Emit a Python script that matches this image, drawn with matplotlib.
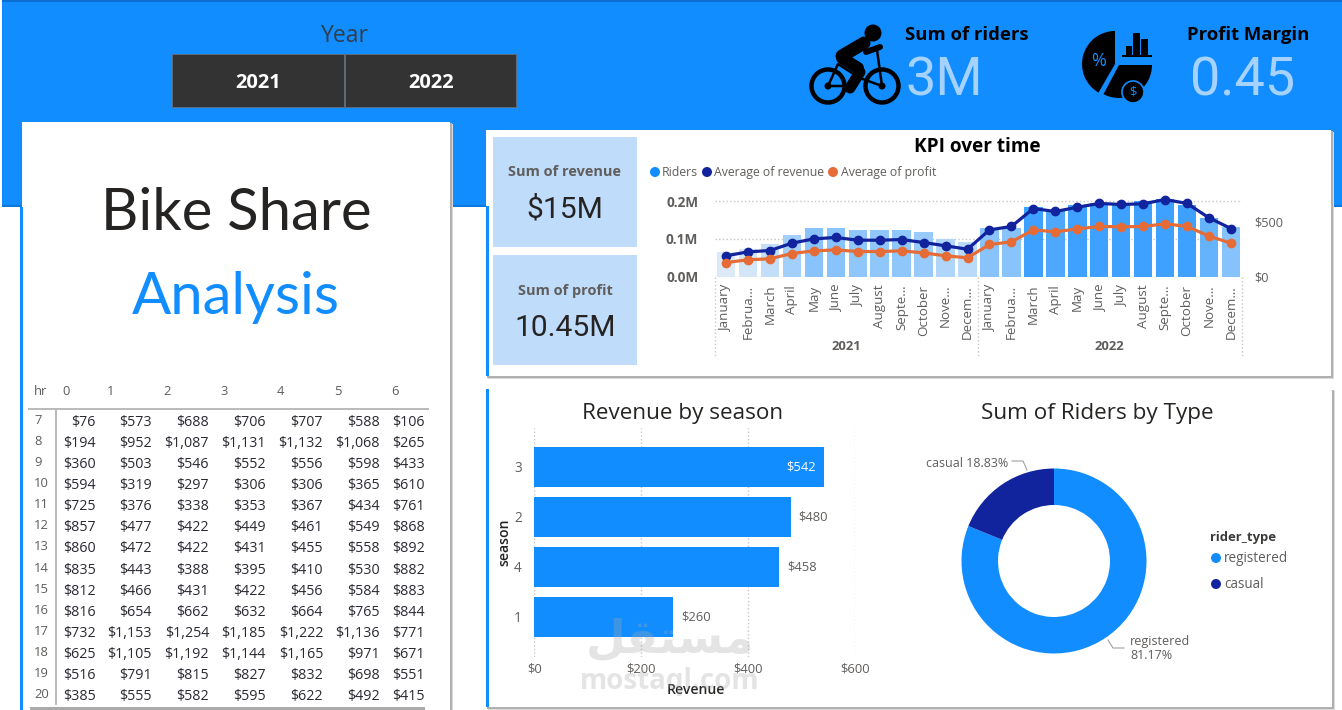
#!/usr/bin/env python3
# Bike share dashboard, rebuilt with matplotlib
import matplotlib
matplotlib.use('Agg')
import matplotlib.pyplot as plt
from matplotlib.colors import LinearSegmentedColormap, Normalize
from matplotlib.patches import Rectangle, Circle, Wedge

plt.rcParams['font.family'] = ['Open Sans', 'DejaVu Sans']

W, H = 1342, 710

BLUE = '#118DFF'
NAVY = '#12239E'
ORANGE = '#E66C37'
GREY = '#605E5C'
DARK = '#252423'
PALE = '#A6D2FF'

# KPI over time
months = ['January', 'Februa…', 'March', 'April', 'May', 'June', 'July', 'August',
          'Septe…', 'October', 'Nove…', 'Decem…'] * 2
years = ['2021', '2022']
riders = [0.066, 0.073, 0.086, 0.110, 0.129, 0.129, 0.124, 0.124, 0.124, 0.118, 0.100, 0.092,
          0.129, 0.129, 0.185, 0.174, 0.190, 0.195, 0.196, 0.200, 0.206, 0.190, 0.155, 0.131]
avg_revenue = [188, 224, 236, 303, 342, 355, 330, 330, 336, 309, 279, 248,
               424, 455, 618, 591, 630, 664, 655, 661, 700, 664, 533, 436]
avg_profit = [127, 152, 161, 209, 233, 242, 227, 227, 233, 215, 188, 170,
              291, 315, 424, 406, 433, 455, 452, 455, 479, 455, 367, 303]

# Revenue by season
seasons = ['3', '2', '4', '1']
season_revenue = [542, 480, 458, 260]
season_labels = ['$542', '$480', '$458', '$260']

# Riders by type
rider_types = ['registered', 'casual']
rider_share = [81.17, 18.83]

# Revenue by hour (rows) and weekday (columns)
hours = [7, 8, 9, 10, 11, 12, 13, 14, 15, 16, 17, 18, 19, 20]
weekdays = [0, 1, 2, 3, 4, 5, 6]
hour_table = [
    [76, 573, 688, 706, 707, 588, 106],
    [194, 952, 1087, 1131, 1132, 1068, 265],
    [360, 503, 546, 552, 556, 598, 433],
    [594, 319, 297, 306, 306, 365, 610],
    [725, 376, 338, 353, 367, 434, 761],
    [857, 477, 422, 449, 461, 549, 868],
    [860, 472, 422, 431, 455, 558, 892],
    [835, 443, 388, 395, 410, 530, 882],
    [812, 466, 431, 422, 456, 584, 883],
    [816, 654, 662, 632, 664, 765, 844],
    [732, 1153, 1254, 1185, 1222, 1136, 771],
    [625, 1105, 1192, 1144, 1165, 971, 671],
    [516, 791, 815, 827, 832, 698, 551],
    [385, 555, 582, 595, 622, 492, 415],
]


def px_axes(left, top, right, bottom):
    """Axes placed by pixel box of the 1342x710 canvas"""
    ax = fig.add_axes([left / W, 1 - bottom / H, (right - left) / W, (bottom - top) / H])
    ax.patch.set_alpha(0)
    return ax


def rect(x0, y0, x1, y1, color, z=1):
    bg.add_patch(Rectangle((x0, y0), x1 - x0, y1 - y0, fc=color, ec='none', zorder=z))


def label(x, y, s, px, color=DARK, ha='center', weight='normal', z=5, **kw):
    # font size given in pixels, small nudge because va=center sits high
    return bg.text(x, y + 1.5, s, fontsize=px * 0.72, color=color, ha=ha, va='center',
                   fontweight=weight, zorder=z, **kw)


def panel(x0, y0, x1, y1):
    # soft shadow on right and bottom
    rect(x0 + 2, y0 + 2, x1 + 3, y1 + 3, '#DADADA', 2)
    rect(x0 + 1, y0 + 1, x1 + 1.5, y1 + 1.5, '#B0B0B0', 2)
    rect(x0, y0, x1, y1, 'white', 3)


fig = plt.figure(figsize=(W / 100, H / 100), dpi=100, facecolor='white')
bg = fig.add_axes([0, 0, 1, 1])
bg.set_xlim(0, W)
bg.set_ylim(H, 0)
bg.axis('off')

# banner
rect(2, 0, W, 207, BLUE)
rect(2, 0, W, 2, '#0A6FD0', 2)
rect(2, 205, W, 207, '#0A78DC', 2)
label(345, 34, 'Year', 23, '#2F3F50')
for x0, x1, yr in [(173, 344, years[0]), (346, 516, years[1])]:
    rect(x0 - 1, 54, x1 + 1, 108, '#5A6B7A', 2)
    rect(x0, 55, x1, 107, '#333333', 2)
    label((x0 + x1) / 2, 82, yr, 20, 'white', weight='bold')

# bike icon
for cx in (828, 882):
    bg.add_patch(Circle((cx, 86), 16.5, fc='none', ec='black', lw=3.2, zorder=4))
    bg.add_patch(Circle((cx, 86), 3.5, fc='black', ec='none', zorder=4))
bg.add_patch(Circle((873, 33), 8.5, fc='black', ec='none', zorder=4))
bike_strokes = [
    ([842, 864], [56, 43], 13),
    ([842, 858], [58, 68], 12),
    ([860, 850], [72, 88], 11),
    ([866, 880], [52, 47], 6),
    ([877, 882], [50, 86], 2.5),
    ([828, 838, 860, 882], [86, 64, 78, 86], 2.5),
    ([828, 848], [86, 86], 2.5),
]
for xs, ys, lw in bike_strokes:
    bg.plot(xs, ys, color='black', lw=lw * 0.72, solid_capstyle='round', zorder=4)
label(905, 33, 'Sum of riders', 18.5, 'black', ha='left', weight='bold')
label(906, 79, '3M', 54, PALE, ha='left', family='Roboto')

# pie icon (y axis is flipped, so angles run clockwise here)
bg.add_patch(Wedge((1115, 64), 33, 120, 270, fc='black', ec='none', zorder=4))
bg.add_patch(Wedge((1119, 65), 33, 0, 118, fc='black', ec='none', zorder=4))
for x0, top, wd in [(1126, 46, 6), (1133, 33, 7), (1141, 39, 7)]:
    rect(x0, top, x0 + wd, 55, 'black', 4)
rect(1122, 55, 1152, 57, 'black', 4)
label(1099, 59, '%', 18, BLUE, z=6)
bg.add_patch(Circle((1133, 92), 11, fc='black', ec=BLUE, lw=1.2, zorder=5))
label(1133, 91, '$', 13, BLUE, z=6)
label(1187, 33, 'Profit Margin', 18.5, 'black', ha='left', weight='bold')
label(1190, 79, '0.45', 54, PALE, ha='left', family='Roboto')

# left panel
panel(22, 122, 450, 712)
rect(20, 207, 23, 710, BLUE, 4)
label(236, 212, 'Bike Share', 58, DARK, family='Lato')
label(236, 296, 'Analysis', 58, BLUE, family='Lato')

# table, right aligned columns like the original matrix
col_right = [96, 152, 209, 266, 323, 380, 425]
col_left = [62, 107, 163, 220, 277, 334, 391]
label(34, 390, 'hr', 13, GREY, ha='left')
for x, d in zip(col_left, weekdays):
    label(x, 390, str(d), 13, GREY, ha='left')
rect(28, 408, 429, 410, '#BDBBB9', 5)
rect(55, 410, 57, 705, '#BDBBB9', 5)
for i, (h, row) in enumerate(zip(hours, hour_table)):
    y = 421 + i * 21.08
    label(34, y - 2, str(h), 13, GREY, ha='left')
    for x, v in zip(col_right, row):
        label(x, y, f'${v:,}', 14.3, '#2B2A33', ha='right')
rect(30, 707, 425, 710, '#AAAAAA', 5)

# right panels
panel(486, 130, 1331, 376)
rect(486, 206, 489, 376, BLUE, 4)
panel(486, 389, 1332, 707)
rect(486, 389, 489, 707, BLUE, 4)

# KPI cards
for y0, y1, name, val in [(137, 247, 'Sum of revenue', '$15M'), (255, 365, 'Sum of profit', '10.45M')]:
    rect(493, y0, 637, y1, '#BFDCFA', 4)
    label(565, y0 + 34, name, 14.5, GREY, weight='bold')
    label(565, y0 + 71, val, 30, DARK, family='Roboto')

# KPI over time combo chart
label(977, 145, 'KPI over time', 19, 'black', weight='bold')
for x_dot, x_txt, col, name in [(655, 662, BLUE, 'Riders'), (707, 714, NAVY, 'Average of revenue'),
                                (833, 841, ORANGE, 'Average of profit')]:
    bg.add_patch(Circle((x_dot, 172), 5, fc=col, ec='none', zorder=5))
    label(x_txt, 171, name, 12.3, GREY, ha='left')

ax_bar = px_axes(715, 195, 1242, 276.5)
x = list(range(len(months)))
bar_cmap = LinearSegmentedColormap.from_list('riders', ['#DCEAF8', '#3FA1FF'])
bar_norm = Normalize(0.066, 0.185, clip=True)
ax_bar.bar(x, riders, width=0.84, color=[bar_cmap(bar_norm(v)) for v in riders], zorder=2)
ax_bar.set_xlim(-0.5, len(months) - 0.5)
ax_bar.set_ylim(0, 0.2162)
ax_bar.set_yticks([0, 0.1, 0.2], ['0.0M', '0.1M', '0.2M'], fontsize=9.8, color=GREY, fontweight='bold')
ax_bar.set_xticks(x, months, rotation=90, fontsize=9.6, color=GREY)
ax_bar.tick_params(length=0, pad=6)
ax_bar.tick_params(axis='y', pad=12)
ax_bar.grid(axis='y', color='#C8C6C4', ls=':', lw=1)
ax_bar.set_axisbelow(True)
for s in ax_bar.spines.values():
    s.set_visible(False)

ax_line = ax_bar.twinx()
ax_line.patch.set_alpha(0)
ax_line.plot(x, avg_revenue, color=NAVY, lw=2.3, marker='o', ms=6)
ax_line.plot(x, avg_profit, color=ORANGE, lw=2.3, marker='o', ms=6)
ax_line.set_ylim(0, 741)
ax_line.set_yticks([0, 500], ['$0', '$500'], fontsize=9.2, color=GREY)
ax_line.tick_params(length=0, pad=9)
for s in ax_line.spines.values():
    s.set_visible(False)

# year level of the x axis
for sep in (715, 978, 1242):
    bg.plot([sep, sep], [277, 358], color='#C8C6C4', ls=':', lw=1, zorder=5)
label(846, 345, years[0], 13, GREY, weight='bold')
label(1109, 345, years[1], 13, GREY, weight='bold')

# Revenue by season
label(683, 412, 'Revenue by season', 22.5, DARK)
ax_season = px_axes(534.3, 428, 854.7, 657)
ypos = list(range(len(seasons)))
ax_season.barh(ypos, season_revenue, height=0.8, color=BLUE, zorder=2)
ax_season.set_xlim(0, 600)
ax_season.set_ylim(3.8, -0.78)
ax_season.set_yticks(ypos, seasons, fontsize=9.8, color=GREY)
ax_season.set_xticks([0, 200, 400, 600], ['$0', '$200', '$400', '$600'], fontsize=9.4, color=GREY)
ax_season.tick_params(length=0, pad=4)
ax_season.tick_params(axis='y', pad=9)
ax_season.grid(axis='x', color='#C8C6C4', ls=':', lw=1)
ax_season.set_axisbelow(True)
for s in ax_season.spines.values():
    s.set_visible(False)
for yp, val, txt in zip(ypos, season_revenue, season_labels):
    if val > 520:
        ax_season.text(val - 15, yp, txt, color='white', ha='right', va='center', fontsize=9.4, zorder=3)
    else:
        ax_season.text(val + 15, yp, txt, color=GREY, ha='left', va='center', fontsize=9.4, zorder=3)
label(696, 688, 'Revenue', 14, DARK, weight='semibold')
label(504, 541, 'season', 14, DARK, weight='semibold', rotation=90)

# Riders by type donut
label(1097, 412, 'Sum of Riders by Type', 22.5, DARK)
ax_donut = px_axes(954, 461, 1154, 661)
ax_donut.pie(rider_share, colors=[BLUE, NAVY], startangle=90, counterclock=False,
             radius=0.925, wedgeprops=dict(width=0.365))
ax_donut.set_xlim(-1, 1)
ax_donut.set_ylim(-1, 1)
label(1008, 462, f'casual {rider_share[1]:.2f}%', 12.5, GREY, ha='right')
bg.plot([1012, 1023, 1027], [461, 461, 470], color='#A0A0A0', lw=0.8, zorder=5)
label(1130, 647, f'registered\n{rider_share[0]:.2f}%', 12.5, GREY, ha='left', linespacing=1.15)
bg.plot([1108, 1113, 1124], [640, 648, 648], color='#A0A0A0', lw=0.8, zorder=5)
label(1210, 536, 'rider_type', 13, '#3B3A39', ha='left', weight='bold')
for yy, col, name in [(558, BLUE, rider_types[0]), (584, NAVY, rider_types[1])]:
    bg.add_patch(Circle((1216, yy), 5, fc=col, ec='none', zorder=5))
    label(1224, yy - 1, name, 13.5, GREY, ha='left')

# watermark
wm = fig.add_axes([0, 0, 1, 1])
wm.set_xlim(0, W)
wm.set_ylim(H, 0)
wm.axis('off')
wm.text(670, 640, '\uFEDE\uFED8\uFE98\uFEB4\uFEE3', fontsize=33, color='#A8A8A8', alpha=0.3,
        ha='center', va='center', fontweight='bold', family='DejaVu Sans')
wm.text(670, 682, 'mostaql.com', fontsize=20, color='#A8A8A8', alpha=0.3,
        ha='center', va='center', fontweight='bold', family='Open Sans')

fig.savefig('out.png', dpi=100)
